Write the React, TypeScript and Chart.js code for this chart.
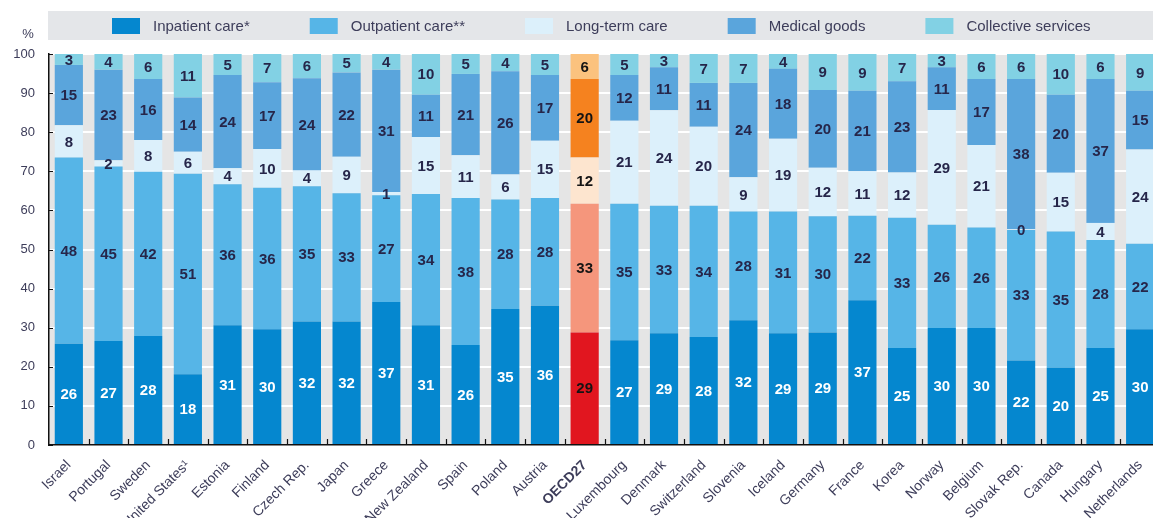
import React, { useEffect, useRef } from 'react';
import { Chart, registerables } from 'chart.js';

Chart.register(...registerables);

const categories = [
  'Israel', 'Portugal', 'Sweden', 'United States¹', 'Estonia', 'Finland', 'Czech Rep.', 'Japan', 'Greece',
  'New Zealand', 'Spain', 'Poland', 'Austria', 'OECD27', 'Luxembourg', 'Denmark', 'Switzerland', 'Slovenia',
  'Iceland', 'Germany', 'France', 'Korea', 'Norway', 'Belgium', 'Slovak Rep.', 'Canada', 'Hungary', 'Netherlands',
];

const inpatient = [25.9, 26.6, 27.9, 18.1, 30.6, 29.6, 31.6, 31.6, 36.6, 30.6, 25.6, 34.8, 35.6, 28.8, 26.8, 28.6, 27.6, 31.9, 28.6, 28.8, 37.0, 24.8, 29.9, 29.9, 21.6, 19.8, 24.8, 29.6];
const outpatient = [47.6, 44.6, 42.0, 51.3, 36.1, 36.2, 34.6, 32.8, 27.3, 33.6, 37.6, 28.0, 27.6, 32.9, 34.9, 32.6, 33.6, 27.8, 31.1, 29.7, 21.6, 33.3, 26.4, 25.7, 33.4, 34.8, 27.6, 21.9];
const longTermCare = [8.3, 1.6, 8.1, 5.6, 4.1, 9.9, 4.0, 9.3, 0.8, 14.6, 10.9, 6.4, 14.6, 11.8, 21.2, 24.4, 20.2, 8.8, 18.6, 12.4, 11.4, 11.6, 29.4, 21.1, 0.2, 15.0, 4.4, 24.1];
const medicalGoods = [15.4, 23.2, 15.6, 13.9, 23.8, 17.1, 23.6, 21.6, 31.3, 10.8, 20.8, 26.4, 16.8, 20.1, 11.7, 11.0, 11.2, 24.1, 17.9, 19.9, 20.6, 23.3, 10.9, 16.9, 38.4, 20.0, 36.8, 15.0];
const collectiveServices = [2.8, 4.0, 6.4, 11.1, 5.4, 7.2, 6.2, 4.7, 4.0, 10.4, 5.1, 4.4, 5.4, 6.4, 5.4, 3.4, 7.4, 7.4, 3.8, 9.2, 9.4, 7.0, 3.4, 6.4, 6.4, 10.4, 6.4, 9.4];

const seriesNames = ['Inpatient care*', 'Outpatient care**', 'Long-term care', 'Medical goods', 'Collective services'];
const seriesValues = [inpatient, outpatient, longTermCare, medicalGoods, collectiveServices];
const seriesColors = ['#0587cf', '#56b5e7', '#dcf0fb', '#5aa5dc', '#82d1e4'];
const highlightColors = ['#e1161f', '#f5967c', '#fde5cf', '#f5821f', '#fbc27e'];
const highlightCategory = 'OECD27';
const yTickValues = [0, 10, 20, 30, 40, 50, 60, 70, 80, 90, 100];

const W = 1162;
const H = 518;
const TEXT = '#3d3d5a';
const SANS = '"Liberation Sans", Arial, sans-serif';

const decorPlugin = {
  id: 'decor',
  beforeDraw(chart: any) {
    const { ctx, chartArea } = chart;
    ctx.save();
    ctx.fillStyle = '#e5e5e5';
    ctx.fillRect(chartArea.left, chartArea.top, chartArea.right - chartArea.left, chartArea.bottom - chartArea.top);
    // legend band
    ctx.fillStyle = '#e4e6e9';
    ctx.fillRect(48, 11, W - 48, 29);
    ctx.font = '15px ' + SANS;
    ctx.textBaseline = 'middle';
    ctx.textAlign = 'left';
    let x = 112;
    seriesNames.forEach((n, k) => {
      ctx.fillStyle = seriesColors[k];
      ctx.fillRect(x, 18, 28, 16);
      ctx.fillStyle = TEXT;
      ctx.fillText(n, x + 41, 26.5);
      x += 41 + ctx.measureText(n).width + 60;
    });
    // % unit
    ctx.font = '13px ' + SANS;
    ctx.textAlign = 'center';
    ctx.fillText('%', 28, 34);
    ctx.restore();
  },
  afterDatasetsDraw(chart: any) {
    const { ctx, chartArea } = chart;
    const hi = categories.indexOf(highlightCategory);
    ctx.save();
    ctx.font = 'bold 15px ' + SANS;
    ctx.textAlign = 'center';
    ctx.textBaseline = 'middle';
    chart.data.datasets.forEach((ds: any, k: number) => {
      const meta = chart.getDatasetMeta(k);
      meta.data.forEach((el: any, i: number) => {
        const v = ds.data[i];
        const y = (el.y + el.base) / 2;
        ctx.fillStyle = i === hi ? '#141414' : k === 0 ? '#ffffff' : '#26264a';
        ctx.fillText(String(Math.round(v)), el.x, y + 1);
      });
    });
    // inward ticks
    const xs = chart.scales.x;
    const ys = chart.scales.y;
    ctx.strokeStyle = '#111';
    ctx.lineWidth = 1.2;
    ctx.beginPath();
    yTickValues.forEach((v) => {
      const y = Math.round(ys.getPixelForValue(v)) + 0.5;
      ctx.moveTo(chartArea.left, y);
      ctx.lineTo(chartArea.left + 4, y);
    });
    for (let i = 0; i < categories.length - 1; i++) {
      const x = Math.round((xs.getPixelForValue(i) + xs.getPixelForValue(i + 1)) / 2) + 0.5;
      ctx.moveTo(x, chartArea.bottom);
      ctx.lineTo(x, chartArea.bottom - 6);
    }
    ctx.stroke();
    ctx.restore();
  },
};

export default function App() {
  const ref = useRef<HTMLCanvasElement>(null);
  useEffect(() => {
    const canvas = ref.current;
    if (!canvas) return;
    const hi = categories.indexOf(highlightCategory);
    const chart = new Chart(canvas, {
      type: 'bar',
      data: {
        labels: categories,
        datasets: seriesNames.map((name, k) => ({
          label: name,
          data: seriesValues[k],
          backgroundColor: categories.map((_, i) => (i === hi ? highlightColors[k] : seriesColors[k])),
          borderWidth: 0,
          barPercentage: 0.71,
          categoryPercentage: 1,
        })),
      },
      options: {
        responsive: false,
        animation: false,
        layout: { padding: { top: 54, right: 2, left: 0, bottom: 0 } },
        plugins: { legend: { display: false }, tooltip: { enabled: false } },
        scales: {
          x: {
            stacked: true,
            grid: { display: false },
            border: { display: true, color: '#111', width: 1.5, z: 1 },
            ticks: {
              autoSkip: false,
              maxRotation: 45,
              minRotation: 45,
              padding: 4,
              color: TEXT,
              font: (c: any) => ({ family: SANS, size: 14, weight: c.index === hi ? 'bold' : 'normal' }),
            },
            afterFit: (s: any) => {
              s.height = 73;
            },
          },
          y: {
            stacked: true,
            min: 0,
            max: 100,
            ticks: { stepSize: 10, padding: 14, color: TEXT, font: { family: SANS, size: 13 } },
            grid: { color: '#ffffff', lineWidth: 2, drawTicks: false },
            border: { display: true, color: '#111', width: 1.5, z: 1 },
            afterFit: (s: any) => {
              s.width = 49;
            },
          },
        },
      },
      plugins: [decorPlugin],
    } as any);
    return () => chart.destroy();
  }, []);
  return (
    <div style={{ position: 'fixed', left: 0, top: 0, width: 1153, height: 518, overflow: 'hidden', background: '#fff' }}>
      <canvas ref={ref} width={W} height={H} style={{ width: W, height: H, display: 'block' }} />
    </div>
  );
}
